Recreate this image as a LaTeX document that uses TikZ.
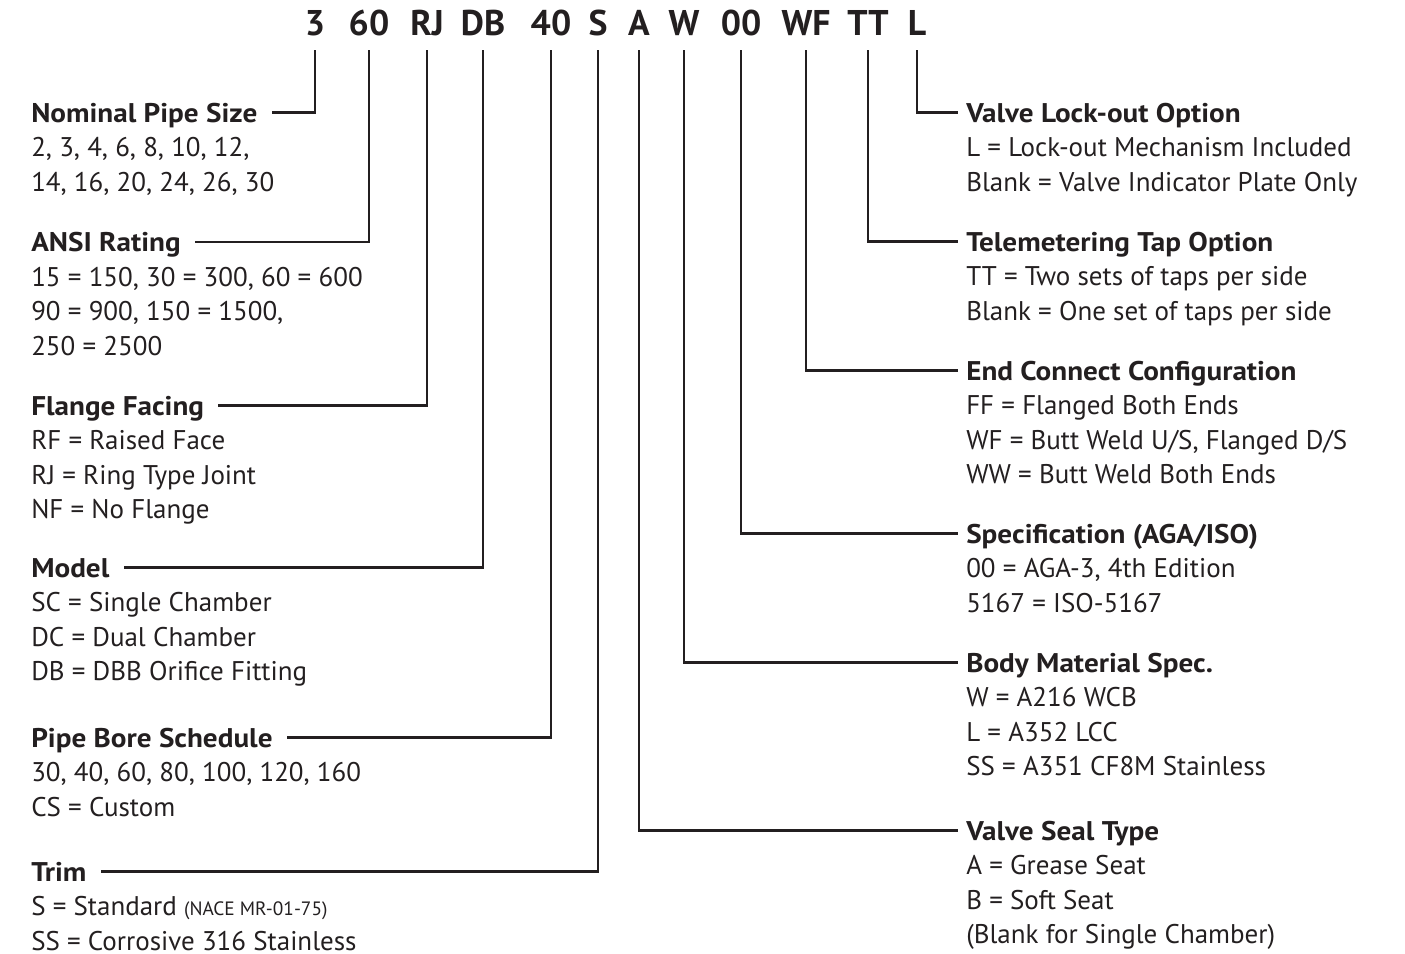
\documentclass[tikz,border=0pt]{standalone}
\usepackage{fontspec}
\setmainfont{PT Sans}
\newfontfamily\headfam[FakeStretch=1.08]{PT Sans}
\definecolor{ink}{RGB}{35,31,32}
\newcommand\bodysize{\fontsize{20.25pt}{25.875pt}\selectfont}
\newcommand\headsize{\headfam\fontsize{20.25pt}{25.875pt}\selectfont\bfseries}
\newcommand\toksize{\fontsize{26.8pt}{30pt}\selectfont\bfseries}
\newcommand\smalltxt{\fontsize{14.5pt}{16pt}\selectfont}
\newcommand\textlines[1]{\vtop{\baselineskip=25.875pt\lineskip=0pt\lineskiplimit=-20pt\let\\\cr\halign{##\hfil\cr#1\crcr}}}
\tikzset{
  head/.style={anchor=base west, inner sep=0pt, text height=14.25pt, text depth=0pt, font=\headsize, text=ink},
  bodytxt/.style={anchor=base west, inner sep=0pt, font=\bodysize, text=ink},
  tok/.style={anchor=base, inner sep=0pt, text depth=0pt, font=\toksize, text=ink},
  conn/.style={line width=1.9pt, draw=ink, shorten <=10.5pt},
  connL/.style={conn, shorten >=10.5pt},
  connR/.style={conn, shorten >=6pt}
}
\newcommand\entry[5]{%
  \node[head] (#1) at (#2,#3) {#4};
  \node[bodytxt] (#1b) at (#2,#3+34.5) {\textlines{#5}};
}
\begin{document}
\begin{tikzpicture}[x=0.75pt,y=-0.75pt]
\path[use as bounding box] (0,0) rectangle (1405,953);
% code tokens
\node[tok] (c1) at (315,36) {3};
\node[tok] (c2) at (369,36) {60};
\node[tok] (c3) at (427,36) {RJ};
\node[tok] (c4) at (483,36) {DB};
\node[tok] (c5) at (551,36) {40};
\node[tok] (c6) at (598,36) {S};
\node[tok] (c7) at (639,36) {A};
\node[tok] (c8) at (684,36) {W};
\node[tok] (c9) at (741,36) {00};
\node[tok] (c10) at (806,36) {WF};
\node[tok] (c11) at (868,36) {TT};
\node[tok] (c12) at (917,36) {L};
% left entries
\entry{l1}{31}{122}{Nominal Pipe Size}{2, 3, 4, 6, 8, 10, 12,\\14, 16, 20, 24, 26, 30}
\entry{l2}{31}{251.5}{ANSI Rating}{15 = 150, 30 = 300, 60 = 600\\90 = 900, 150 = 1500,\\250 = 2500}
\entry{l3}{31}{415}{Flange Facing}{RF = Raised Face\\RJ = Ring Type Joint\\NF = No Flange}
\entry{l4}{31}{577}{Model}{SC = Single Chamber\\DC = Dual Chamber\\DB = DBB Orifice Fitting}
\entry{l5}{31}{747}{Pipe Bore Schedule}{30, 40, 60, 80, 100, 120, 160\\CS = Custom}
\entry{l6}{31}{881}{Trim}{S = Standard {\smalltxt(NACE MR-01-75)}\\SS = Corrosive 316 Stainless}
% right entries
\entry{r1}{966}{122}{Valve Lock-out Option}{L = Lock-out Mechanism Included\\Blank = Valve Indicator Plate Only}
\entry{r2}{966}{251}{Telemetering Tap Option}{TT = Two sets of taps per side\\Blank = One set of taps per side}
\entry{r3}{966}{380}{End Connect Configuration}{FF = Flanged Both Ends\\WF = Butt Weld U/S, Flanged D/S\\WW = Butt Weld Both Ends}
\entry{r4}{966}{543}{Specification (AGA/ISO)}{00 = AGA-3, 4th Edition\\5167 = ISO-5167}
\entry{r5}{966}{672}{Body Material Spec.}{W = A216 WCB\\L = A352 LCC\\SS = A351 CF8M Stainless}
\entry{r6}{966}{840}{Valve Seal Type}{A = Grease Seat\\B = Soft Seat\\(Blank for Single Chamber)}
% connectors
\draw[connL] (c1.south) |- (l1.east);
\draw[connL] (c2.south) |- (l2.east);
\draw[connL] (c3.south) |- (l3.east);
\draw[connL] (c4.south) |- (l4.east);
\draw[connL] (c5.south) |- (l5.east);
\draw[connL] (c6.south) |- (l6.east);
\draw[connR] (c7.south) |- (r6.west);
\draw[connR] (c8.south) |- (r5.west);
\draw[connR] (c9.south) |- (r4.west);
\draw[connR] (c10.south) |- (r3.west);
\draw[connR] (c11.south) |- (r2.west);
\draw[connR] (c12.south) |- (r1.west);
\end{tikzpicture}
\end{document}
